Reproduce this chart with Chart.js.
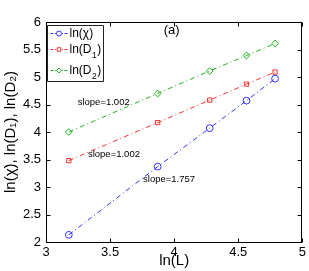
<!DOCTYPE html>
<html><head><meta charset="utf-8">
<script src="https://cdn.jsdelivr.net/npm/chart.js@4.4.0/dist/chart.umd.min.js"></script>
<style>html,body{margin:0;padding:0;background:#fff}#wrap{width:309px;height:271px}</style>
</head><body><div id="wrap"><canvas id="c" width="309" height="271"></canvas></div>
<script>
const lnL = [3.178, 3.871, 4.277, 4.564, 4.787];
const lnChi = [2.13, 3.37, 4.07, 4.57, 4.97];
const lnD1 = [3.48, 4.17, 4.58, 4.87, 5.09];
const lnD2 = [4.00, 4.70, 5.11, 5.39, 5.61];
const seriesNames = ['ln(χ)', 'ln(D₁)', 'ln(D₂)'];
// legend text parts: [main, subscript, tail]
const legendParts = [['ln(χ)', '', ''], ['ln(D', '1', ')'], ['ln(D', '2', ')']];
const xTicks = [3, 3.5, 4, 4.5, 5];
const yTicks = [2, 2.5, 3, 3.5, 4, 4.5, 5, 5.5, 6];
const notes = [
  {text: 'slope=1.002', x: 3.45, y: 4.53},
  {text: 'slope=1.002', x: 3.53, y: 3.60},
  {text: 'slope=1.757', x: 3.96, y: 3.13},
  {text: '(a)', x: 3.98, y: 5.85, big: true}
];
const colors = ['#3030ff', '#ff3030', '#20b020'];
const styles = ['circle', 'rect', 'rectRot'];
const dataSets = [lnChi, lnD1, lnD2];
const FONT = 'Liberation Sans, Arial, Helvetica, sans-serif';

const datasets = dataSets.map((vals, i) => ({
  label: seriesNames[i],
  data: vals.map((v, j) => ({x: lnL[j], y: v})),
  showLine: true,
  borderColor: colors[i],
  borderWidth: 1,
  borderDash: [5, 3, 1, 3],
  pointStyle: styles[i],
  pointRadius: i === 1 ? 3 : 3.4,
  pointBorderWidth: 1,
  pointBorderColor: colors[i],
  pointBackgroundColor: 'rgba(255,255,255,0)',
  backgroundColor: 'rgba(255,255,255,0)'
}));

const framePlugin = {
  id: 'frame',
  afterDraw(chart) {
    const ctx = chart.ctx, a = chart.chartArea;
    const xs = chart.scales.x, ys = chart.scales.y;
    ctx.save();
    ctx.setLineDash([]);
    ctx.strokeStyle = '#000';
    ctx.lineWidth = 1;
    const L = Math.round(a.left) + 0.5, T = Math.round(a.top) + 0.5;
    const R = Math.round(a.right) - 0.5, B = Math.round(a.bottom) + 0.5;
    ctx.strokeRect(L, T, R - L, B - T);
    ctx.beginPath();
    xTicks.forEach(t => {
      const px = Math.round(xs.getPixelForValue(t)) + 0.5;
      ctx.moveTo(px, B); ctx.lineTo(px, B - 4);
      ctx.moveTo(px, T); ctx.lineTo(px, T + 4);
    });
    yTicks.forEach(t => {
      const py = Math.round(ys.getPixelForValue(t)) + 0.5;
      ctx.moveTo(L, py); ctx.lineTo(L + 4, py);
      ctx.moveTo(R, py); ctx.lineTo(R - 4, py);
    });
    ctx.stroke();
    // notes
    ctx.fillStyle = '#000';
    ctx.textAlign = 'center';
    ctx.textBaseline = 'middle';
    notes.forEach(n => {
      ctx.font = (n.big ? '13px ' : '9.5px ') + FONT;
      ctx.fillText(n.text, xs.getPixelForValue(n.x), ys.getPixelForValue(n.y));
    });
    // legend
    const bx = L + 1, by = T + 3, bw = 56, bh = 56;
    ctx.fillStyle = '#fff';
    ctx.fillRect(bx, by, bw, bh);
    ctx.beginPath();
    ctx.moveTo(bx, by); ctx.lineTo(bx + bw, by); ctx.lineTo(bx + bw, by + bh);
    ctx.lineTo(bx, by + bh); ctx.closePath();
    ctx.strokeStyle = '#222';
    ctx.lineWidth = 1;
    ctx.stroke();
    const rows = [by + 8, by + 24, by + 45];
    legendParts.forEach((p, i) => {
      const cy = rows[i];
      ctx.strokeStyle = colors[i];
      ctx.setLineDash([3, 1.5, 1, 1.5]);
      ctx.beginPath();
      ctx.moveTo(bx + 3, cy); ctx.lineTo(bx + 20, cy);
      ctx.stroke();
      ctx.setLineDash([]);
      ctx.fillStyle = '#fff';
      Chart.helpers.drawPoint(ctx, {pointStyle: styles[i], radius: 2.5, borderWidth: 1, rotation: 0}, bx + 11.5, cy);
      ctx.fillStyle = '#000';
      ctx.textAlign = 'left';
      ctx.textBaseline = 'middle';
      ctx.font = '12px ' + FONT;
      let tx = bx + 22;
      ctx.fillText(p[0], tx, cy);
      tx += ctx.measureText(p[0]).width;
      if (p[1]) {
        ctx.font = '8.5px ' + FONT;
        ctx.fillText(p[1], tx + 0.5, cy + 6);
        tx += ctx.measureText(p[1]).width + 1;
        ctx.font = '12px ' + FONT;
        ctx.fillText(p[2], tx, cy);
      }
    });
    ctx.restore();
  }
};

new Chart(document.getElementById('c'), {
  type: 'scatter',
  data: {datasets},
  options: {
    responsive: false,
    animation: false,
    devicePixelRatio: 1,
    layout: {padding: {left: 2, right: 6, top: 22, bottom: 0}},
    plugins: {
      tooltip: {enabled: false},
      legend: {display: false}
    },
    scales: {
      x: {
        type: 'linear', min: 3, max: 5,
        afterFit(s) { s.height = 29; },
        afterBuildTicks(s) { s.ticks = xTicks.map(v => ({value: v})); },
        grid: {display: false, drawTicks: false},
        border: {display: false},
        ticks: {font: {family: FONT, size: 13}, color: '#000', padding: 3, maxRotation: 0,
          callback: v => String(v)},
        title: {display: true, text: 'ln(L)', font: {family: FONT, size: 15}, color: '#000', padding: {top: 0, bottom: 1}}
      },
      y: {
        type: 'linear', min: 2, max: 6,
        afterFit(s) { s.width = 44; },
        afterBuildTicks(s) { s.ticks = yTicks.map(v => ({value: v})); },
        grid: {display: false, drawTicks: false},
        border: {display: false},
        ticks: {font: {family: FONT, size: 13}, color: '#000', padding: 5, callback: v => String(v)},
        title: {display: true, text: 'ln(χ), ln(D₁), ln(D₂)', font: {family: FONT, size: 15}, color: '#000', padding: {top: 0, bottom: 0}}
      }
    }
  },
  plugins: [framePlugin]
});
</script></body></html>
